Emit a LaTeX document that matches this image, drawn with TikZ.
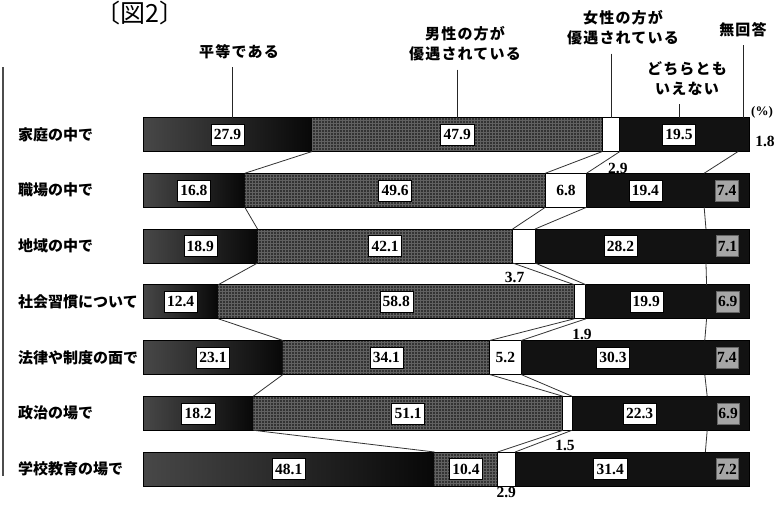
\documentclass[tikz,border=0pt]{standalone}
\usepackage{fontspec}
\setmainfont{Liberation Serif}
\newfontfamily\jp{Noto Sans CJK JP}
\newfontfamily\jpwide{Noto Sans CJK JP}[LetterSpace=8]
\newfontfamily\jphalt{Noto Sans CJK JP}[RawFeature=+halt]
\usetikzlibrary{calc,patterns}

\tikzset{
  eqseg/.style={left color=black!72, right color=black!97},
  maleseg/.style={fill=black!80, postaction={pattern=grid, pattern color=black!62}},
  femseg/.style={fill=white},
  neiseg/.style={fill=black!93},
  noneseg/.style={fill=black!93},
  barline/.style={draw=black, line width=1pt},
  valbox/.style={draw=black, fill=white, inner xsep=3pt, inner ysep=2pt,
    minimum height=21pt, font=\bfseries\fontsize{15.5}{15.5}\selectfont},
  greybox/.style={valbox, fill=black!35, draw=black!60, inner xsep=1.5pt},
  outval/.style={inner sep=1pt, font=\bfseries\fontsize{15.5}{15.5}\selectfont},
  catlabel/.style={anchor=west, inner sep=0pt, font=\jp\bfseries\fontsize{15}{15}\selectfont},
  legend/.style={align=center, inner sep=1pt, font=\jpwide\bfseries\fontsize{15}{20}\selectfont},
  lead/.style={black!85, line width=1pt, shorten <=7pt},
  link/.style={black!80, line width=0.8pt}
}

\begin{document}
\begin{tikzpicture}[x=1pt, y=-1pt]
\useasboundingbox (0,0) rectangle (779,507);
\fill[white] (0,0) rectangle (779,507);

% title and page rule
\node[font=\jphalt\fontsize{25}{25}\selectfont] (title) at (140,13) {〔図2〕};
\draw[line width=2pt, black!70] (3,67) -- (3,476);

% bars: equal / men / women / neither / no answer
\def\xl{143} \def\xr{749} \def\pc{6.06}
\foreach \r/\lab/\a/\b/\c/\d/\e in {
  1/家庭の中で/27.9/47.9/2.9/19.5/1.8,
  2/職場の中で/16.8/49.6/6.8/19.4/7.4,
  3/地域の中で/18.9/42.1/3.7/28.2/7.1,
  4/社会習慣について/12.4/58.8/1.9/19.9/6.9,
  5/法律や制度の面で/23.1/34.1/5.2/30.3/7.4,
  6/政治の場で/18.2/51.1/1.5/22.3/6.9,
  7/学校教育の場で/48.1/10.4/2.9/31.4/7.2}{
  \pgfmathsetmacro\yc{134.5+(\r-1)*55.75}
  \pgfmathsetmacro\yt{\yc-17}
  \pgfmathsetmacro\yb{\yc+17}
  \pgfmathsetmacro\xa{\xl+\pc*\a}
  \pgfmathsetmacro\xb{\xa+\pc*\b}
  \pgfmathsetmacro\xc{\xb+\pc*\c}
  \pgfmathsetmacro\xd{\xc+\pc*\d}
  \fill[eqseg] (\xl,\yt) rectangle (\xa,\yb);
  \fill[maleseg] (\xa,\yt) rectangle (\xb,\yb);
  \fill[femseg] (\xb,\yt) rectangle (\xc,\yb);
  \fill[neiseg] (\xc,\yt) rectangle (\xd,\yb);
  \fill[noneseg] (\xd,\yt) rectangle (\xr,\yb);
  \draw[barline] (\xl,\yt) rectangle (\xr,\yb);
  \draw[barline] (\xb,\yt) -- (\xb,\yb) (\xc,\yt) -- (\xc,\yb);
  % segment edges, top and bottom
  \foreach \k/\x in {0/\xl,1/\xa,2/\xb,3/\xc,4/\xd,5/\xr}{
    \coordinate (t\r-\k) at (\x,\yt);
    \coordinate (b\r-\k) at (\x,\yb);
  }
  \node[catlabel] (c\r) at (18,\yc) {\lab};
  \node[valbox] (v\r-1) at ({(\xl+\xa)/2},\yc) {\a};
  \node[valbox] (v\r-2) at ({(\xa+\xb)/2},\yc) {\b};
  \node[valbox] (v\r-4) at ({(\xc+\xd)/2},\yc) {\d};
  \ifnum\r>1
    \node[greybox] (v\r-5) at ({(\xd+\xr)/2},\yc) {\e};
  \fi
}

% lines joining the boundaries of neighbouring bars
\foreach \r in {1,...,6}{
  \pgfmathtruncatemacro\rr{\r+1}
  \foreach \k in {1,...,4}
    \draw[link] (b\r-\k) -- (t\rr-\k);
}

% women-favoured values
\node[outval] (v2-3) at ($(t2-2)!0.5!(b2-3)$) {6.8};
\node[outval] (v5-3) at ($(t5-2)!0.5!(b5-3)$) {5.2};
\node[outval] (v1-3) at ($(b1-3)+(-2,17)$) {2.9};
\node[outval] (v3-3) at ($(b3-2)+(2,14)$) {3.7};
\node[outval] (v4-3) at ($(b4-3)+(-4,16)$) {1.9};
\node[outval] (v6-3) at ($(b6-2)+(2,15)$) {1.5};
\node[outval, anchor=north] (v7-3) at ($(b7-2)!0.5!(b7-3)$) {2.9};
\node[outval] (v1-5) at ($(b1-5)+(16,-10)$) {1.8};

% legend with leaders
\coordinate (peq) at ($(t1-0)!0.5!(t1-1)+(5,0)$);
\coordinate (pmale) at ($(t1-1)!0.5!(t1-2)$);
\coordinate (pfem) at ($(t1-2)!0.5!(t1-3)$);
\coordinate (pnei) at ($(t1-3)!0.5!(t1-4)$);
\coordinate (pnone) at ($(t1-4)!0.5!(t1-5)$);
\node[legend] (leq) at (239,52) {平等である};
\node[legend] (lmale) at (465,44) {男性の方が\\優遇されている};
\node[legend] (lfem) at (623,28) {女性の方が\\優遇されている};
\node[legend] (lnei) at (687,79) {どちらとも\\いえない};
\node[legend] (lnone) at (743,30) {無回答};
\foreach \n in {eq,male,fem,nei,none}
  \draw[lead] (l\n.south -| p\n) -- (p\n);
\node[inner sep=0pt, font=\bfseries\fontsize{13}{13}\selectfont] (pct) at (762,112) {(\%)};
\end{tikzpicture}
\end{document}
